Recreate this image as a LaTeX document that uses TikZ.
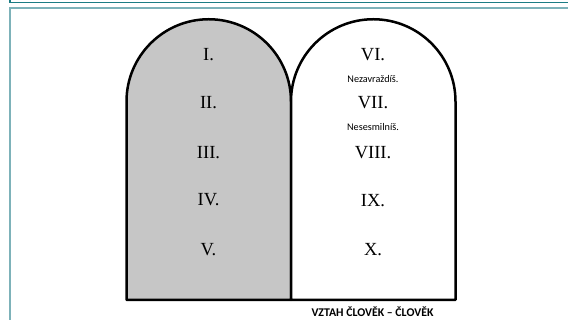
\documentclass[tikz,border=0pt]{standalone}
\usepackage{fontspec}
\setmainfont{Liberation Serif}
\newfontfamily\calib{Carlito}
\definecolor{tealdark}{HTML}{1B7C84}
\definecolor{teallight}{HTML}{7DB2B9}
\definecolor{tabgray}{HTML}{C6C6C6}
\begin{document}
\begin{tikzpicture}[x=1pt,y=1pt,
  tablet/.style={line width=2.5pt, line join=round},
  numeral/.style={font=\fontsize{18.5}{19}\selectfont, inner sep=0pt},
  commandment/.style={font=\calib\fontsize{10.2}{11}\selectfont, inner sep=0pt},
  caption/.style={font=\calib\bfseries\fontsize{11.8}{12}\selectfont, inner sep=0pt}]
\useasboundingbox (0,0) rectangle (568,320);
% frame
\draw[tealdark, line width=1.5pt] (10,330) -- (10,317.5) -- (575,317.5);
\draw[teallight, line width=1.5pt] (10,-10) -- (10,312) -- (575,312);
% tablets
\draw[tablet, fill=tabgray] (126.5,20) -- (126.5,218.5) arc (180:0:82.25) -- (291,20) -- cycle;
\draw[tablet, fill=white] (291,20) -- (291,218.5) arc (180:0:82.25) -- (455.5,20) -- cycle;
% left numerals
\node[numeral] (n1) at (208.5,265.5) {I.};
\node[numeral] (n2) at (208.5,217) {II.};
\node[numeral] (n3) at (208.5,167) {III.};
\node[numeral] (n4) at (208.5,120) {IV.};
\node[numeral] (n5) at (208.5,70) {V.};
% right numerals
\node[numeral] (n6) at (373,265.5) {VI.};
\node[commandment] (c6) at (373,241) {Nezavraždíš.};
\node[numeral] (n7) at (373,217) {VII.};
\node[commandment] (c7) at (373,193) {Nesesmilníš.};
\node[numeral] (n8) at (373,167) {VIII.};
\node[numeral] (n9) at (373,119) {IX.};
\node[numeral] (n10) at (373,70) {X.};
% caption
\node[caption] (cap) at (372.5,8.5) {VZTAH ČLOVĚK – ČLOVĚK};
\end{tikzpicture}
\end{document}
